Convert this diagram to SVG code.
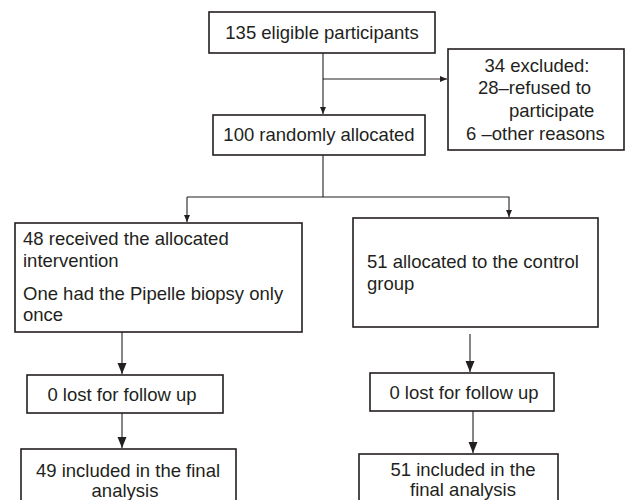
<svg xmlns="http://www.w3.org/2000/svg" width="626" height="500" viewBox="0 0 626 500">
<defs>
<marker id="sm" markerWidth="8" markerHeight="8" refX="7" refY="4" orient="auto" markerUnits="userSpaceOnUse"><path d="M0,1 L7,4 L0,7 Z" fill="#231f20"/></marker>
<marker id="lg" markerWidth="12" markerHeight="12" refX="11" refY="6" orient="auto" markerUnits="userSpaceOnUse"><path d="M0,1.5 L11,6 L0,10.5 Z" fill="#231f20"/></marker>
</defs>
<style>
.box{fill:#fff;stroke:#231f20;stroke-width:1.6}
.ln{fill:none;stroke:#231f20;stroke-width:1.1}
text{font-family:"Liberation Sans",Arial,sans-serif;font-size:18.5px;fill:#231f20}
.c{text-anchor:middle}
</style>
<rect width="626" height="500" fill="#fff"/>
<g id="connectors">
<line class="ln" x1="323" y1="53" x2="323" y2="114" marker-end="url(#sm)"/>
<line class="ln" x1="323" y1="79" x2="447" y2="79" marker-end="url(#sm)"/>
<polyline class="ln" points="323,155 323,197"/>
<polyline class="ln" points="187,197 509,197 509,217" marker-end="url(#sm)"/>
<line class="ln" x1="187" y1="197" x2="187" y2="222" marker-end="url(#sm)"/>
<line class="ln" x1="122" y1="332" x2="122" y2="374" marker-end="url(#lg)"/>
<line class="ln" x1="470" y1="334" x2="470" y2="372" marker-end="url(#lg)"/>
<line class="ln" x1="122" y1="413" x2="122" y2="448" marker-end="url(#lg)"/>
<line class="ln" x1="473" y1="411" x2="473" y2="453" marker-end="url(#lg)"/>
</g>
<g id="eligible">
<rect class="box" x="209" y="12" width="226" height="41"/>
<text class="c" x="322" y="39">135 eligible participants</text>
</g>
<g id="excluded">
<rect class="box" x="448" y="49" width="176" height="101"/>
<text class="c" x="537" y="72">34 excluded:</text>
<text x="478" y="94">28–refused to</text>
<text x="509" y="117">participate</text>
<text x="466" y="140">6 –other reasons</text>
</g>
<g id="allocated">
<rect class="box" x="213" y="115" width="212" height="40"/>
<text class="c" x="319" y="141">100 randomly allocated</text>
</g>
<g id="intervention">
<rect class="box" x="15" y="223" width="287" height="109"/>
<text x="23" y="245">48 received the allocated</text>
<text x="23" y="267">intervention</text>
<text x="23" y="300">One had the Pipelle biopsy only</text>
<text x="23" y="321">once</text>
</g>
<g id="control">
<rect class="box" x="353" y="218" width="245" height="109"/>
<text x="367" y="268">51 allocated to the control</text>
<text x="367" y="290">group</text>
</g>
<g id="lost-left">
<rect class="box" x="27" y="375" width="196" height="38"/>
<text class="c" x="122" y="401">0 lost for follow up</text>
</g>
<g id="lost-right">
<rect class="box" x="370" y="373" width="184" height="38"/>
<text class="c" x="464" y="399">0 lost for follow up</text>
</g>
<g id="final-left">
<rect class="box" x="21" y="449" width="215" height="60"/>
<text class="c" x="128" y="477">49 included in the final</text>
<text class="c" x="125" y="497">analysis</text>
</g>
<g id="final-right">
<rect class="box" x="359" y="454" width="199" height="60"/>
<text class="c" x="463" y="476">51 included in the</text>
<text class="c" x="463" y="496">final analysis</text>
</g>
</svg>
